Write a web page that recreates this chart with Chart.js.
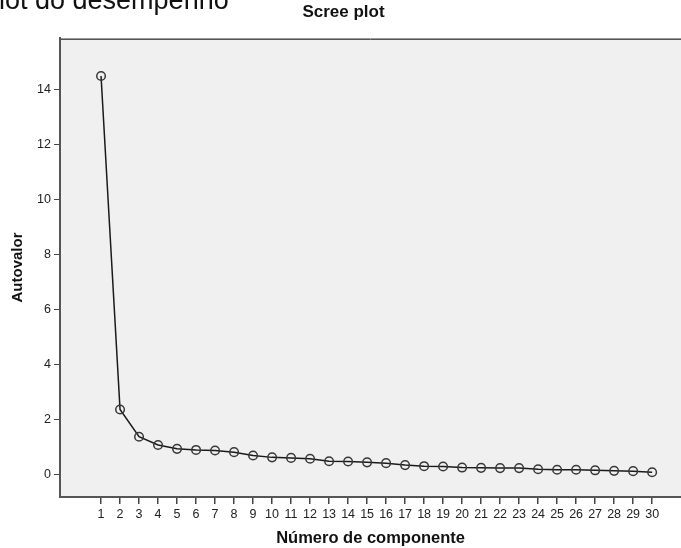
<!DOCTYPE html>
<html>
<head>
<meta charset="utf-8">
<script src="https://cdn.jsdelivr.net/npm/chart.js@4.4.1/dist/chart.umd.min.js"></script>
<style>
  html, body { margin: 0; padding: 0; background: #fff; overflow: hidden; }
  #wrap { position: relative; width: 681px; height: 548px; overflow: hidden; }
  #heading {
    position: absolute; left: -16px; top: -13px;
    font: 27px "Liberation Sans", Arial, sans-serif; line-height: 1;
    color: #111; white-space: nowrap;
  }
</style>
</head>
<body>
<div id="wrap">
  <canvas id="scree" width="687" height="548"></canvas>
  <div id="heading">plot do desempenho</div>
</div>
<script>
// Componentes e autovalores
const componentes = [1, 2, 3, 4, 5, 6, 7, 8, 9, 10, 11, 12, 13, 14, 15,
  16, 17, 18, 19, 20, 21, 22, 23, 24, 25, 26, 27, 28, 29, 30];
const autovalores = [14.48, 2.36, 1.37, 1.07, 0.93, 0.89, 0.87, 0.81, 0.69, 0.62,
  0.60, 0.57, 0.48, 0.47, 0.44, 0.41, 0.34, 0.30, 0.29, 0.25,
  0.24, 0.23, 0.23, 0.19, 0.17, 0.17, 0.15, 0.13, 0.12, 0.08];
const yTicks = [0, 2, 4, 6, 8, 10, 12, 14];

const FONT = '"Liberation Sans", Arial, sans-serif';

// fundo cinza e borda superior da área do gráfico
const plotFrame = {
  id: 'plotFrame',
  beforeDraw(chart) {
    const { ctx, chartArea: a } = chart;
    ctx.save();
    ctx.fillStyle = '#f0f0f0';
    ctx.fillRect(a.left, a.top, a.right - a.left, a.bottom - a.top);
    ctx.strokeStyle = '#9a9a9a';
    ctx.lineWidth = 1;
    ctx.beginPath();
    ctx.moveTo(a.left, a.top + 0.5);
    ctx.lineTo(a.right, a.top + 0.5);
    ctx.stroke();
    ctx.strokeStyle = '#555';
    ctx.beginPath();
    ctx.moveTo(a.left, a.top + 1.5);
    ctx.lineTo(a.right, a.top + 1.5);
    ctx.stroke();
    ctx.restore();
  }
};

new Chart(document.getElementById('scree'), {
  type: 'line',
  data: {
    datasets: [{
      data: componentes.map((c, i) => ({ x: c, y: autovalores[i] })),
      borderColor: '#1a1a1a',
      borderWidth: 1.5,
      pointRadius: 4.3,
      pointBorderWidth: 1.5,
      pointBorderColor: '#383838',
      pointBackgroundColor: 'rgba(0,0,0,0)',
      tension: 0
    }]
  },
  options: {
    responsive: false,
    devicePixelRatio: 1,
    animation: false,
    layout: { padding: { right: 0, left: 0 } },
    plugins: {
      legend: { display: false },
      tooltip: { enabled: false },
      title: {
        display: true,
        text: 'Scree plot',
        color: '#111',
        font: { family: FONT, size: 17, weight: 'bold' },
        padding: { top: 2, bottom: 15.6 }
      }
    },
    scales: {
      x: {
        type: 'linear',
        min: -1.16,
        max: 31.53,
        afterFit(scale) { scale.height = 51; },
        afterBuildTicks(scale) { scale.ticks = componentes.map(v => ({ value: v })); },
        border: { display: true, color: '#555', width: 2 },
        grid: { drawOnChartArea: false, drawTicks: true, tickLength: 7, color: '#444', lineWidth: 1.5 },
        ticks: {
          color: '#222', padding: 3, maxRotation: 0, autoSkip: false,
          font: { family: FONT, size: 12.5 }
        },
        title: {
          display: true,
          text: 'Número de componente',
          color: '#111',
          font: { family: FONT, size: 16.5, weight: 'bold' },
          padding: { top: 0, bottom: 0 }
        }
      },
      y: {
        min: -0.82,
        max: 15.86,
        afterFit(scale) { scale.width = 60; },
        afterBuildTicks(scale) { scale.ticks = yTicks.map(v => ({ value: v })); },
        border: { display: true, color: '#555', width: 2 },
        grid: { drawOnChartArea: false, drawTicks: true, tickLength: 6, color: '#444', lineWidth: 1 },
        ticks: {
          color: '#222', padding: 3,
          font: { family: FONT, size: 12.5 }
        },
        title: {
          display: true,
          text: 'Autovalor',
          color: '#111',
          font: { family: FONT, size: 15, weight: 'bold' },
          padding: { top: 9, bottom: 0 }
        }
      }
    }
  },
  plugins: [plotFrame]
});
</script>
</body>
</html>
